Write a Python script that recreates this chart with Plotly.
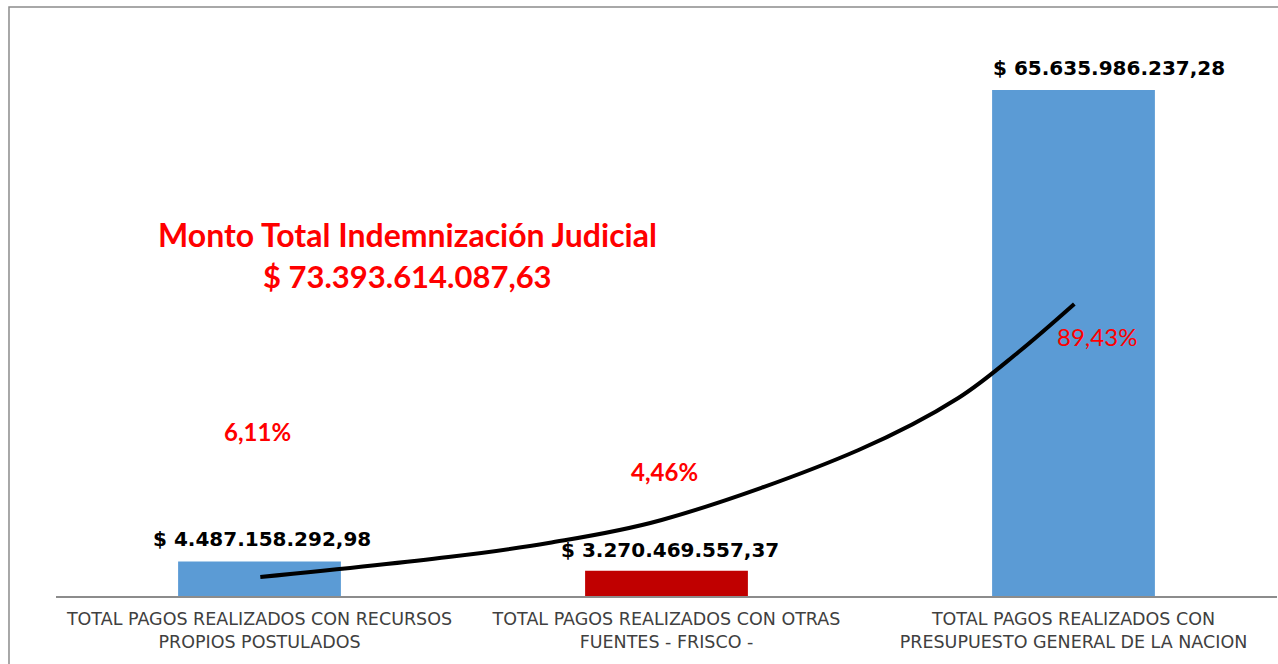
import plotly.graph_objects as go

categories = [
    "TOTAL PAGOS REALIZADOS CON RECURSOS<br>PROPIOS POSTULADOS",
    "TOTAL PAGOS REALIZADOS CON OTRAS<br>FUENTES - FRISCO -",
    "TOTAL PAGOS REALIZADOS CON<br>PRESUPUESTO GENERAL DE LA NACION",
]
values = [4487158292.98, 3270469557.37, 65635986237.28]
value_labels = ["$ 4.487.158.292,98", "$ 3.270.469.557,37", "$ 65.635.986.237,28"]
bar_colors = ["#5B9BD5", "#C00000", "#5B9BD5"]
percent_labels = ["6,11%", "4,46%", "89,43%"]
total_title = "Monto Total Indemnización Judicial"
total_value = "$ 73.393.614.087,63"

# hand-drawn trend curve (category position, value)
curve_x = [0.002, 0.464, 0.710, 0.988, 1.472, 1.717, 1.865, 2.002]
curve_y = [2.46e9, 5.06e9, 6.88e9, 9.86e9, 18.94e9, 25.68e9, 31.65e9, 37.88e9]

xs = list(range(len(categories)))

fig = go.Figure()
fig.add_trace(go.Bar(x=xs, y=values, width=0.4, marker=dict(color=bar_colors, line=dict(width=0)),
                     hoverinfo="skip", showlegend=False))
fig.add_trace(go.Scatter(x=curve_x, y=curve_y, mode="lines",
                         line=dict(color="black", width=4, shape="spline", smoothing=1.0),
                         hoverinfo="skip", showlegend=False))

annotations = []
label_xshift = [2, 3, 35]
label_yshift = [22, 21, 22]
for i, (v, t) in enumerate(zip(values, value_labels)):
    annotations.append(dict(x=i, y=v, xref="x", yref="y", text=t, showarrow=False,
                            xanchor="center", yanchor="middle",
                            xshift=label_xshift[i], yshift=label_yshift[i],
                            font=dict(family="DejaVu Sans", size=20, color="black", weight="bold")))

pct_pos = [(0.0, 0.280, -2, True), (1.0, 0.212, -2, True), (2.0, 0.44, 23, False)]
for (px, py, xs_, bold), t in zip(pct_pos, percent_labels):
    annotations.append(dict(x=px, y=py, xref="x", yref="paper", text=t, showarrow=False,
                            xanchor="center", yanchor="middle", xshift=xs_,
                            font=dict(family="Lato", size=24, color="#FF0000",
                                      weight="bold" if bold else "normal")))

annotations.append(dict(x=0.2875, y=0.613, xref="paper", yref="paper", text=total_title,
                        showarrow=False, xanchor="center", yanchor="middle",
                        font=dict(family="Lato", size=32, color="#FF0000", weight="bold")))
annotations.append(dict(x=0.2875, y=0.543, xref="paper", yref="paper", text=total_value,
                        showarrow=False, xanchor="center", yanchor="middle",
                        font=dict(family="Lato", size=31, color="#FF0000", weight="bold")))

fig.update_layout(
    width=1278, height=664,
    margin=dict(l=56, r=1, t=7, b=68),
    paper_bgcolor="white", plot_bgcolor="white",
    xaxis=dict(range=[-0.5, 2.5], tickvals=xs, ticktext=categories, showgrid=False,
               zeroline=False, showline=True, linecolor="#8C8C8C", linewidth=1.5,
               ticks="", ticklabelstandoff=6,
               tickfont=dict(family="DejaVu Sans", size=17.5, color="#404040"),
               fixedrange=True),
    yaxis=dict(range=[0, 76.40e9], visible=False, showgrid=False, fixedrange=True),
    annotations=annotations,
    shapes=[dict(type="rect", xref="paper", yref="paper", x0=-0.0385, x1=1.2, y0=-0.3, y1=1.0,
                 line=dict(color="#8C8C8C", width=1.5), fillcolor="rgba(0,0,0,0)", layer="below")],
)

fig.write_html("out.html", config={"displayModeBar": False},
               post_script="document.body.style.margin='0px';document.body.style.overflow='hidden';")
